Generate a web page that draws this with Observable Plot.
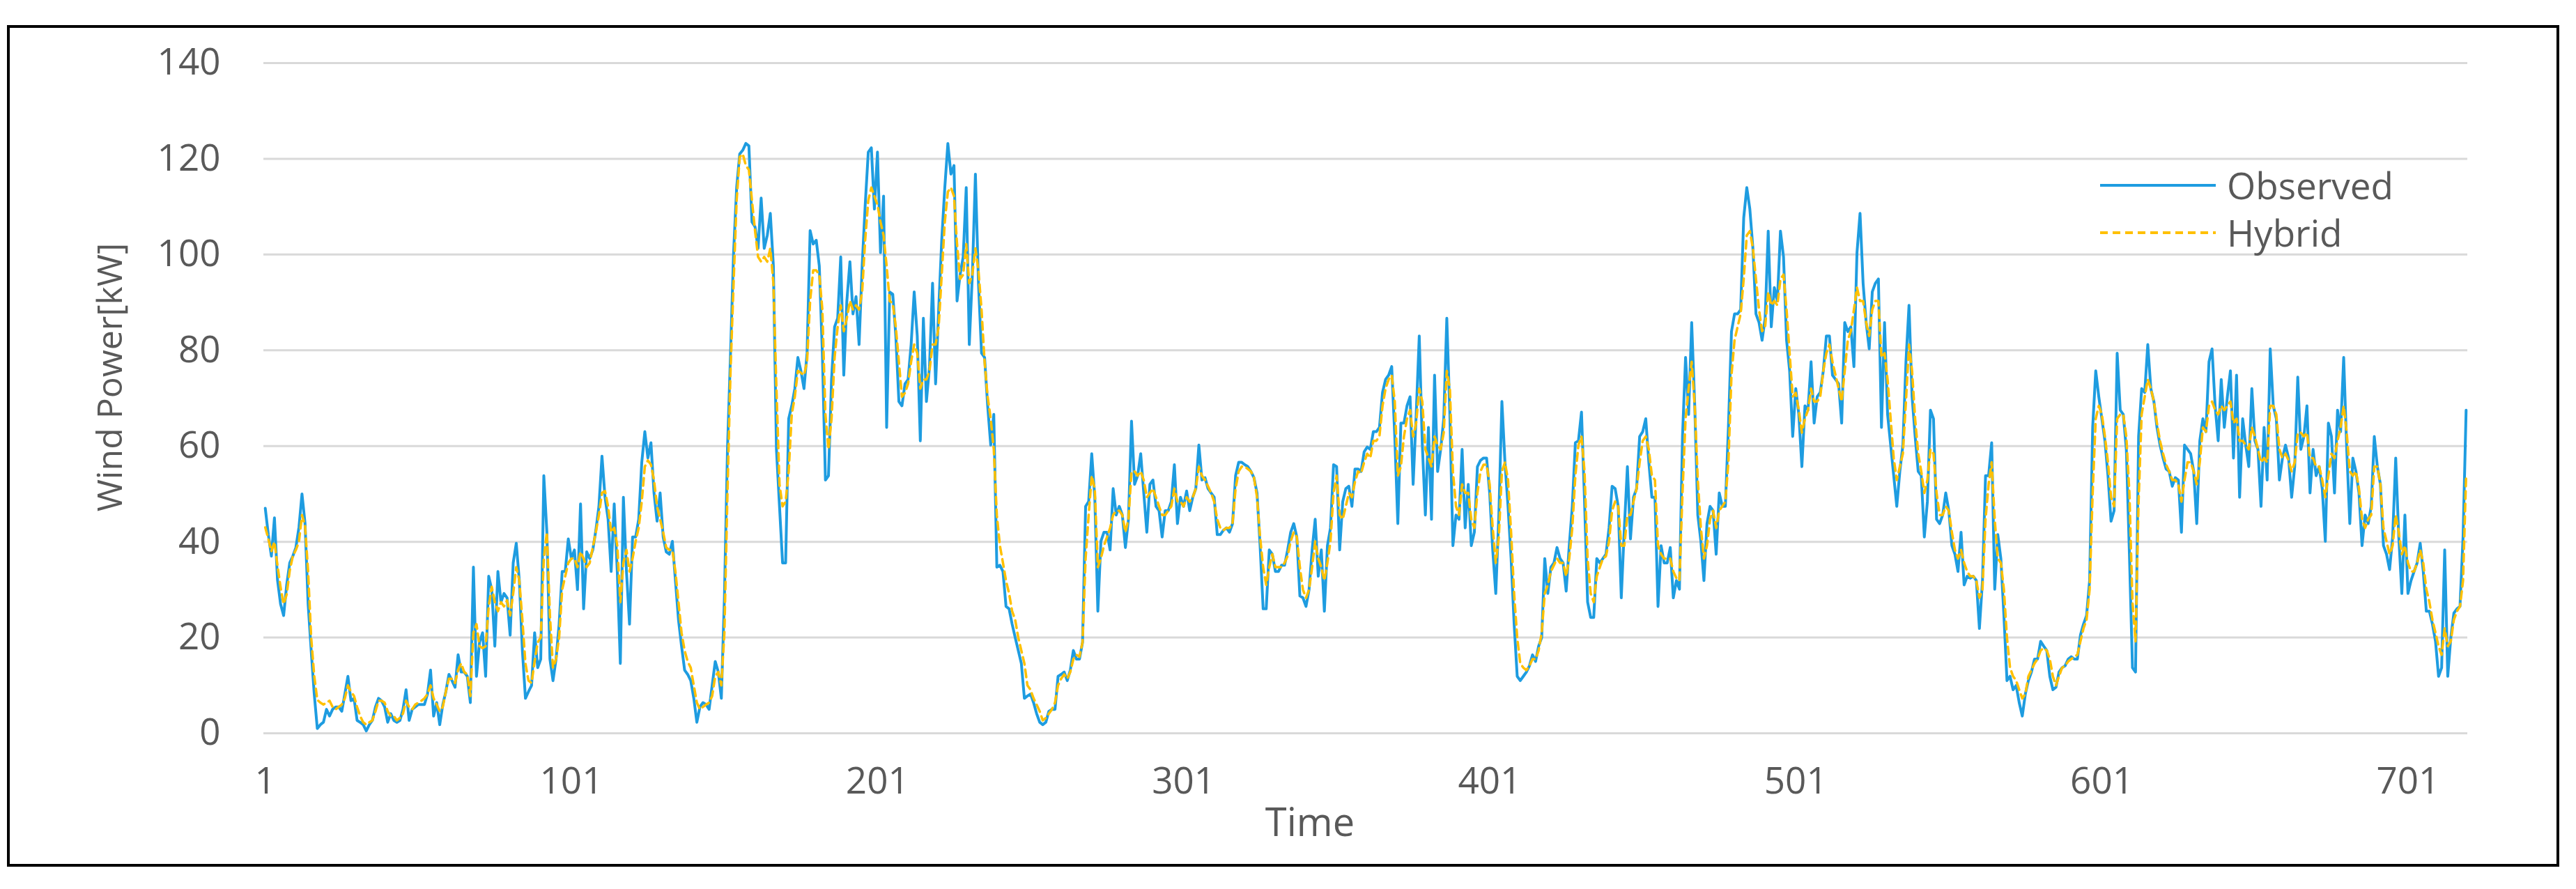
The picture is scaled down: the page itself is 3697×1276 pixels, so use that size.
<!DOCTYPE html>
<html>
<head>
<meta charset="utf-8">
<script src="https://cdn.jsdelivr.net/npm/d3@7"></script>
<script src="https://cdn.jsdelivr.net/npm/@observablehq/plot@0.6"></script>
<style>
  html, body { margin: 0; padding: 0; background: #ffffff; }
  #wrap { position: relative; width: 3697px; height: 1276px; background: #ffffff; }
  #frame { position: absolute; left: 10px; top: 36px; width: 3663px; height: 1208px;
           border: 4px solid #000; box-sizing: border-box; pointer-events: none; }
  #legend { position: absolute; left: 3010px; top: 232px; font-family: 'Open Sans', sans-serif;
            font-size: 53px; color: #595959; line-height: 68px; }
  #legend .row { display: flex; align-items: center; height: 68px; }
  #legend svg { margin-right: 14px; }
</style>
</head>
<body>
<div id="wrap">
  <div id="chart"></div>
  <div id="legend">
    <div class="row"><svg width="172" height="10"><line x1="4" y1="5" x2="170" y2="5" stroke="#1E9CE0" stroke-width="4"/></svg><span>Observed</span></div>
    <div class="row"><svg width="172" height="10"><line x1="4" y1="5" x2="170" y2="5" stroke="#FFC000" stroke-width="4" stroke-dasharray="11,7"/></svg><span>Hybrid</span></div>
  </div>
  <div id="frame"></div>
</div>
<script>
// Tick values
const xTicks = [1, 101, 201, 301, 401, 501, 601, 701];
const yTicks = [0, 20, 40, 60, 80, 100, 120, 140];

// Observed wind power (kW), time steps 1..720
const observed = [
  47,41.5,37,45,32,27,24.6,31,35.6,37,
  38.8,43,50,43.8,27,17.3,8.2,1,1.8,2.3,
  5,3.6,5,5.5,5.5,4.6,8.2,11.9,6.8,7.3,
  2.7,2.3,1.8,0.5,1.8,2.7,5.5,7.3,6.8,5.5,
  2.3,4.1,2.7,2.3,2.7,5,9.1,2.7,5,5.5,
  6,6,6,8.2,13.2,3.6,6.4,1.8,6,8.7,
  12.3,11,9.6,16.4,12.8,12.8,11.9,6.4,34.7,11.9,
  19,21,11.9,32.8,30,18.2,33.8,27.4,29.2,28.3,
  20.5,35.6,39.7,31.9,17.3,7.3,8.7,10,21,
  13.7,15.5,53.8,42,15.5,11,15.5,22.8,33.8,33.8,
  40.6,36.5,38.3,30,47.9,26,37.9,36.5,38.3,42.4,
  47.4,57.9,49.3,44.7,33.8,47.9,33.8,14.6,49.3,33.8,
  22.8,41,41,44.7,56.6,63,57.5,60.7,50.2,44.3,
  50.2,41,37.9,37.4,40.1,31.9,23.7,18.2,13.2,12.3,
  11,7.3,2.3,5.5,6.4,6,5,10,15,12.8,
  7.3,28.3,59.3,79.4,100.4,114,121,121.8,123.2,122.7,
  106.8,105.8,101.3,111.8,101.3,104,108.6,97.6,59.3,47.4,
  35.6,35.6,65.7,68.4,72,78.5,75.7,72,79.4,105,
  102.2,
  103,97.6,79.4,52.9,53.8,73.9,84.9,86.7,99.5,74.8,
  90.3,98.5,87.6,91.2,81.2,97.6,110.4,121.4,122.3,109.5,
  121.4,100.4,112.2,63.9,92.2,91.7,83,69.3,68.4,73,
  73.9,81.2,92.2,83,61.1,86.7,69.3,76.6,94,73,
  88.5,103.1,114,123.2,116.8,118.6,90.3,95.8,99.5,114,
  81.2,95.8,116.8,94,79.4,78.5,68.4,60.2,66.6,34.7,
  35.1,33.8,26.5,26,22.8,20,17.3,14.6,7.3,7.8,
  8.2,6.4,4.1,2.3,1.8,2.3,4.6,5,5,11.9,
  12.3,12.8,11,13.2,17.3,15.5,15.5,19,47.4,48.4,
  58.4,49.3,
  25.5,40.1,42,42,38.3,51.1,45.6,47.4,45.6,38.8,
  44.7,65.2,52,53.8,58.4,50.2,42,52,52.9,47.4,
  46.5,41,46.5,46.5,48.4,56.1,43.8,49.3,47.4,50.6,
  46.5,49.3,51.1,60.2,52.9,53.4,51.1,50.2,49.3,41.5,
  41.5,42.4,42.9,42,43.8,53.8,56.6,56.6,56.1,55.7,
  54.7,53.4,50.2,39.2,26,26,38.3,37.4,33.8,33.8,
  35.1,35.1,38.3,42,43.8,41,28.7,28.3,26.5,30,
  38.3,44.7,32.8,38.3,25.5,39.2,42.9,56.1,55.7,38.3,
  48.4,51.1,51.6,47.4,55.2,55.2,54.7,58.8,59.8,59.3,
  63,
  63,63.9,71.2,73.9,74.8,76.6,62,43.8,64.8,64.8,
  68.4,70.3,52,66.6,83,60.2,45.6,63.9,44.7,74.8,
  54.7,59.3,65.7,86.7,66.6,39.2,45.6,44.7,59.3,42.9,
  52,39.2,42,55.7,57,57.5,57.5,50.2,38.3,29.2,
  45.6,69.3,56.6,47.4,36.5,22.8,11.9,11,11.9,12.8,
  14.1,16.4,15,18.2,20,36.5,29.2,34.7,35.6,38.8,
  36.5,35.6,29.7,39.2,47.4,60.7,61.1,67.1,48.4,27.4,
  24.2,24.2,36.5,35.6,36.5,37.4,42.9,51.6,51.1,47.4,
  28.3,42.9,55.7,40.6,49.3,51.1,62,63,65.7,56.6,
  49.3,
  49.3,26.5,39.2,35.6,35.6,38.8,28.3,31.9,30.1,62,
  78.5,66.6,85.8,68.4,45.6,40.1,31.9,43.8,47.4,46.5,
  37.4,50.2,47.4,47.4,63.9,83.9,87.6,87.6,88.5,107.7,
  114,109.5,101.3,87.6,85.8,82.1,86.7,104.9,84.9,93.1,
  90.3,104.9,99.5,82.1,75.7,62,72,66.6,55.7,68.4,
  67.5,77.6,64.8,70.3,71.2,75.7,83,83,74.8,73.9,
  73,64.8,85.8,83.9,84.9,76.6,100.4,108.6,94,85.8,
  80.3,92.2,94,94.9,63.9,85.8,66.6,60.2,53.8,47.4,
  54.7,60.2,77.6,89.4,70.3,62,54.7,53.8,41,48.4,
  67.5,
  65.7,44.7,43.8,45.6,50.2,46.5,39.2,37.4,33.8,42,
  31,32.8,32.4,32.8,31.9,21.9,31.9,53.8,53.8,60.7,
  30.1,41.5,36.5,24.6,11,11.9,9.1,10,6.4,3.6,
  8.2,11,12.8,15.5,15.5,19.2,18.2,17.3,11.9,9.1,
  9.6,12.8,13.7,14.1,15.5,16,15.5,15.5,20.5,22.8,
  24.6,31.9,63.9,75.7,70.3,65.7,61.1,53.8,44.3,46.5,
  79.4,67.5,66.6,59.3,37.4,13.7,12.8,62,72,71.2,
  81.2,72,69.3,63.9,60.2,57.5,55.2,54.7,51.6,53.4,
  52.9,42,60.2,59.3,58.4,54.7,43.8,61.1,65.7,63,
  77.6,
  80.3,68.4,61.1,73.9,63.9,70.3,75.7,57.5,74.8,49.3,
  65.7,60.2,55.7,72,61.1,59.3,47.4,63.9,52.9,80.3,
  68.4,65.7,52.9,57.5,60.2,57.5,49.3,55.7,74.4,59.3,
  62,68.4,50.2,59.3,53.8,55.7,51.1,40.1,64.8,62,
  50.2,67.5,63,78.5,59.3,43.8,57.5,54.7,50.2,39.2,
  45.6,43.8,47.4,62,55.7,52,39.2,37.4,34.2,41,
  57.5,41,29.2,45.6,29.2,31.9,33.8,35.6,39.7,33.8,
  25.5,25.5,22.8,19.2,11.9,13.7,38.3,11.9,20,25.1,
  26,26.5,41,67.5
];

// Hybrid model forecast (kW), time steps 1..720
const hybrid = [
  43,40.6,38,40,35,30.5,27,29,34,37,
  38.3,40,45.6,43.3,33.8,20,12,7,6.4,6,
  6.4,6.8,5.5,5,5.5,6,7.3,10,8.7,7.8,
  5.5,3.6,2.3,1.8,2.3,2.7,4.6,6.8,6.8,6.4,
  4.6,3.6,3.6,2.7,3.2,4.1,6.8,5.5,5,6,
  6.4,6.8,7.3,8.2,10,7.3,6,4.6,5.5,8.7,
  11.4,11.4,10.5,13.2,14.6,12.8,12.3,7.8,21,22.8,
  18.2,17.8,18.2,26.5,30.6,27.4,25.5,27.4,26.5,27.8,
  24.6,29.2,34.7,31.9,23.7,14.6,11,10.5,15,
  19,20,36.5,42,24.6,13.7,15.5,20,30,32.8,
  35.6,36.5,36.5,34.7,37.9,36.5,34.7,35.6,38.8,42,
  45.6,50.2,50.6,47.4,42,42.9,39.2,27.4,35.6,38.3,
  33.8,36.5,40.1,42.9,48.4,55.7,57,56.1,52.9,47.4,
  44.7,42,38.8,38.3,38.3,33.8,27.4,21,17.3,15,
  13.7,10,6.4,5,5.5,6,6.4,7.8,11.9,12.8,
  10,21,50.2,75.7,94,111.3,120.4,121,118.6,117.7,
  111.3,105,99.5,98.5,99.5,98.5,101.3,94,72,52,
  47.4,48.4,54.7,66.6,70.3,75.7,75.3,74.8,77.6,90.3,
  96.7,
  96.7,95.8,88.5,66.6,59.3,65.7,78.5,84.9,89.4,84,
  86.7,90.3,88.5,89.4,88.5,92.2,103.1,111.3,114,112.2,
  110.4,106.8,104,97.6,90.3,89.8,84.9,77.6,70.3,71.1,
  73,77.6,81.2,79.4,72,73.9,73.9,75.7,81.2,81.2,
  84.9,95.8,106.8,113.1,114,112.2,102.2,94.9,95.8,102.2,
  94,95.8,101.3,96.7,88.5,77.6,70.3,65.7,59.3,45.6,
  39.2,35.6,31.9,29.2,25.5,23.7,20,17.3,14.6,10,
  9.1,7.3,6,4.6,2.7,3.2,4.1,5,6.4,10,
  11.4,12.3,11.4,12.8,15.5,16.4,16,19,36.5,45.6,
  53.8,51.1,
  34.7,36.5,39.2,41,42.9,45.6,46.5,46.5,45.6,42,
  44.7,54.7,54.7,53.8,54.7,52.9,49.3,50.2,51.1,49.3,
  47.4,45.6,45.6,46.5,47.4,51.1,48.4,48.4,47.4,49.3,
  48.4,49.3,51.1,55.7,53.8,52.9,51.6,50.2,48.4,44.7,
  42.9,42.4,42.9,42.9,43.8,51.1,54.7,55.7,55.7,55.2,
  54.7,53.4,49.3,41,34.7,31,34.7,37.4,34.7,34.7,
  34.7,35.6,37,40.1,42,41,34.7,30,28.3,30,
  34.7,40.1,36.5,34.7,31.9,35.6,40.1,50.2,53.8,45.6,
  44.7,47.4,50.2,49.3,52.5,54.7,54.3,56.6,58.4,57.5,
  61.1,
  61.1,62.1,68.4,72,73.9,74.8,69.3,53.8,55.7,62,
  65.7,67.5,62,64.8,72,69.3,59.3,57.5,55.7,62,
  60.2,59.3,62.8,75.7,72,54.7,47.4,45.6,52,50.2,
  50.2,44.7,42.9,50.2,54.7,56.1,56.1,52,42.9,35.6,
  41,54.7,56.6,52.9,42,29.2,20,14.6,13.7,13.2,
  14.1,15.5,15.5,17.3,21,29.2,31,33.8,35.1,36.5,
  35.6,35.6,32.8,36.5,42.9,53.8,60.2,62,54.7,36.5,
  29.2,27.4,32.8,34.7,36.5,37,40.1,46.5,48.4,47.4,
  39.2,39.2,45.6,45.6,48.4,51.1,56.6,61.1,62,59.3,
  53.8,
  52.9,39.2,37.4,36.5,36.5,36.5,33.8,32.4,31.9,50.2,
  65.7,72,77.6,68.4,52.9,42.9,36.5,39.2,44.7,46.5,
  42.9,46.5,47.4,48.4,56.6,74.8,82.1,84.9,87.6,94.9,
  104,104.9,101.3,94.9,88.5,84,84.9,92.2,89.4,90.3,
  89.4,94.9,95.8,88.5,79.4,70.3,71.1,67.5,62.8,65.7,
  67.5,72,69.3,69.3,70.3,75.7,79.4,81.2,77.6,74.8,
  72,69.3,75.7,82.1,84,88.5,93.1,90.3,90.3,85.8,
  83,88.5,90.3,90.3,78.5,79.4,73.9,65.7,57.5,52.9,
  55.7,58.4,69.3,81.2,75.7,65.7,58.4,54.7,50.2,52.9,
  59.3,
  58.4,50.2,45.6,45.6,47.4,46.5,42,38.3,36.5,38.3,
  35.6,33.8,32.8,32.8,31.9,28.3,30,44.7,52,56.6,
  44.7,36.5,35.6,30.1,20,13.7,11.9,11,9.1,7.3,
  8.2,11.9,13.2,14.6,15.5,17.3,17.8,17.3,15.5,11.9,
  10,11.9,13.7,14.1,15,15.5,16,16.4,19.2,21.9,
  23.7,30,50.2,65.7,68.4,66.6,62,56.6,49.3,47.4,
  65.7,66.6,66.6,62,50.2,27.4,19.2,48.4,66.6,70.3,
  73.9,72,69.3,64.8,61.1,58.4,56.1,54.7,52.9,52.9,
  52,48.4,52.9,56.6,56.6,54.7,52,56.6,63.9,63,
  68.4,
  69.3,67.5,66.6,68.4,67.5,68.4,69.3,64.8,65.7,61.1,
  61.1,60.2,59.3,63.9,62,59.3,56.6,57.5,56.6,68.4,
  68.4,66.6,59.3,57.5,58.4,57,54.7,56.6,62.8,62.8,
  62,62.8,57.5,57.5,55.7,55.7,52.9,49.3,53.8,58.4,
  57.5,61.1,63.9,68.4,62.8,54.7,53.8,54.7,51.1,44.7,
  42.9,44.7,45.6,55.7,55.7,52,42.9,40.1,37.4,39.2,
  45.6,42,37.4,39.2,35.6,33.8,33.8,35.6,38.3,35.6,
  30.1,27.4,23.7,21,18.2,16.4,21.9,18.2,19.2,23.7,
  25.5,26.5,31.9,53.8
];

const obsRows = observed.map((v, i) => ({time: i + 1, power: v}));
const hybRows = hybrid.map((v, i) => ({time: i + 1, power: v}));

const chart = Plot.plot({
  width: 3697,
  height: 1276,
  marginLeft: 378,
  marginRight: 156,
  marginTop: 90,
  marginBottom: 224,
  style: {fontFamily: "'Open Sans', sans-serif", fontSize: "53px", color: "#595959", background: "transparent"},
  x: {type: "linear", domain: [0.5, 720.5], label: null},
  y: {domain: [0, 140], label: null},
  marks: [
    Plot.gridY(yTicks, {stroke: "#d9d9d9", strokeOpacity: 1, strokeWidth: 3}),
    Plot.axisY(yTicks, {tickSize: 0, tickPadding: 62, label: null, fontSize: 53}),
    Plot.axisX(xTicks, {tickSize: 0, tickPadding: 49, label: null, fontSize: 53}),
    Plot.line(obsRows, {x: "time", y: "power", stroke: "#1E9CE0", strokeWidth: 4, strokeLinejoin: "round"}),
    Plot.line(hybRows, {x: "time", y: "power", stroke: "#FFC000", strokeWidth: 3.5, strokeDasharray: "11,7"}),
    Plot.text(["Wind Power[kW]"], {text: d => d, frameAnchor: "left", dx: -220, dy: -30, rotate: -90,
      textAnchor: "middle", lineAnchor: "middle", fontSize: 50, fill: "#595959"}),
    Plot.text(["Time"], {text: d => d, frameAnchor: "bottom", dx: -80, dy: 130,
      textAnchor: "middle", lineAnchor: "middle", fontSize: 56, fill: "#595959"})
  ]
});
document.getElementById("chart").appendChild(chart);
</script>
</body>
</html>
